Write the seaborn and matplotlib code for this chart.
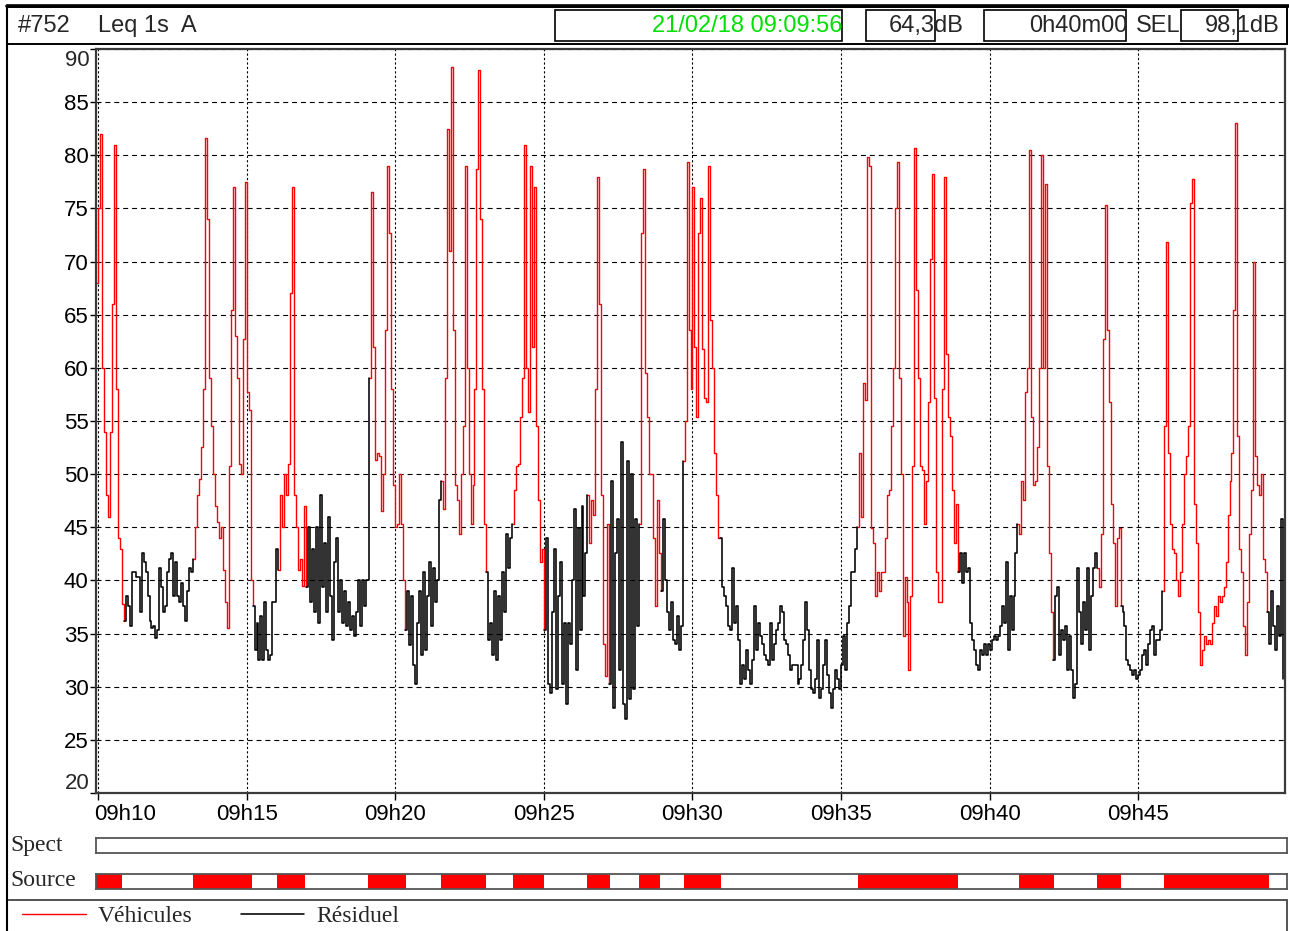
import numpy as np
import pandas as pd
import matplotlib
matplotlib.use("Agg")
import matplotlib.pyplot as plt
from matplotlib.patches import Rectangle
from matplotlib.lines import Line2D
from matplotlib.transforms import ScaledTranslation
import seaborn as sns

# ---------------------------------------------------------------------------
# Measurement: Leq 1s (A-weighted), one stored value every 4 s
# ---------------------------------------------------------------------------
START = "09:09:56"
STEP_S = 4

leq_0910 = [68, 75, 82, 60, 54, 48, 46, 54, 66, 81, 58, 44, 43, 37.8, 36.2,
            38.5, 37.6, 35.7, 40.8, 40.8, 40.3, 40.3, 37, 42.6, 41.7, 40.8, 38.5, 36.2, 35.5, 35.7,
            34.6, 35.3, 41.2, 39.4, 37, 37.6, 40.8, 42, 42.6, 38.5, 41.7, 38.5, 38, 39.8, 37.6,
            36.2, 39, 41.2, 40.8, 42, 45, 48, 49.5, 52.6, 58, 81.6, 74, 59, 54.5, 50,
            47, 45.5, 44, 45, 41, 38, 35.5, 50.8, 65.4, 77, 63, 59, 51, 50, 62.7]
leq_0915 = [77.5, 57.7, 56, 40, 37.6, 33.5, 36, 32.5, 36.7, 32.5, 38, 33.5, 32.5, 33, 38,
            38, 43, 41, 48, 45, 50, 48, 51, 67, 77, 48, 45, 41, 42, 39.5,
            47, 39.4, 45, 38, 43, 37, 45, 36, 48, 39.4, 43.5, 37, 46, 38.5, 34.4,
            41.7, 44, 37, 40, 36, 39, 35.7, 38, 35.3, 36.7, 34.8, 37, 40, 35.7, 40,
            37.6, 40, 40, 59, 76.5, 62, 51.3, 52, 51.7, 46.5, 50, 63.6, 79, 72.7, 58]
leq_0920 = [49, 45, 45.3, 50, 45.3, 40, 35.3, 39, 33.9, 38.5, 32, 30.3, 36, 39, 33,
            40.8, 33.5, 38.5, 41.7, 35.7, 41.2, 38, 40, 47.6, 49.4, 46.7, 59, 82.5, 71, 88.3,
            63.6, 49, 47.6, 44.4, 50, 54.5, 79, 60, 50, 45.3, 49, 58, 78.7, 88, 74,
            58, 45.3, 40.8, 34.4, 36, 33, 39, 32.5, 38.5, 34.4, 40.8, 37, 44.4, 41.2, 44,
            45.3, 48.5, 50.8, 51, 55.4, 59, 81, 60, 55.8, 79, 62, 77, 54.5, 47.6, 41.7]
leq_0925 = [43, 35.3, 44, 30.3, 29.4, 37, 43, 29.8, 38.5, 41.7, 30.3, 36, 28.4, 36, 34,
            40, 46.7, 31.6, 44.9, 35.3, 47, 38.5, 42.6, 48, 43.5, 47.6, 46.2, 58, 78, 66,
            48, 34, 31, 45.3, 30.3, 49.4, 28, 42.6, 45.8, 31.6, 53, 28.4, 27, 51.2, 28.8,
            50, 29.8, 45.8, 35.7, 45.3, 72.7, 78.7, 59.5, 55.4, 50, 50, 44, 37.6, 47.6, 42.6,
            39, 45.8, 40, 37, 35.3, 38, 34.4, 34, 36.7, 33.5, 35.7, 51.2, 55, 79.4, 63.6]
leq_0930 = [58, 77, 62, 55.4, 72.7, 76, 61.8, 57.2, 56.8, 79, 64.5, 60, 52, 48, 44,
            44, 39.4, 38.5, 37.6, 35.7, 35.3, 41.2, 36, 37.6, 34.4, 30.3, 32, 30.7, 33.5, 31.6,
            30.3, 32.5, 37.6, 33.5, 36, 34.8, 34, 33, 32.5, 32, 36, 32.5, 34, 35.3, 36,
            37.6, 37, 34.4, 34, 33, 31.6, 32, 32, 32, 30.3, 30.7, 32, 34.4, 38, 35.3,
            31.6, 29.8, 29.4, 30.7, 34.4, 28.9, 29.8, 32, 34.4, 31.1, 29.4, 28, 29.8, 31.6, 30.7]
leq_0935 = [29.8, 32, 34.8, 31.6, 36, 37.6, 40.8, 40.8, 43, 45, 52, 46, 58.6, 57, 79.8,
            79, 44.9, 43.5, 38.5, 40.8, 39, 40.8, 40.8, 44, 48, 48.5, 54.5, 60, 75, 79.4,
            59, 50, 34.8, 40.3, 38, 31.6, 38.5, 50.8, 80.7, 67.3, 59, 50.8, 50.4, 45.3, 49.4,
            56.8, 70.2, 78.2, 57.2, 40.8, 38, 38, 58, 78, 61.3, 55.4, 53.6, 48.5, 43.5, 47.2,
            40.8, 42.6, 39.8, 42.6, 40.8, 41.2, 36, 34.4, 33.5, 32, 31.6, 33.5, 33, 34, 33]
leq_0940 = [34, 33.5, 34.4, 34.8, 34.4, 34.8, 35.7, 37.6, 36, 41.7, 33.5, 38.5, 35.3, 38.5, 42.6,
            45.3, 44.4, 49.4, 47.6, 57.7, 60, 80.5, 55.4, 49, 49.4, 52.6, 60, 80, 60, 77.3,
            50.8, 42.6, 37, 32.5, 38.5, 39.4, 33, 35.3, 34.4, 35.7, 31.6, 34.8, 31.6, 28.9, 30.3,
            41.2, 37, 34, 38, 35.3, 41.2, 33.5, 38.5, 41.2, 42.6, 41.2, 39.4, 44.4, 62.7, 75.3,
            63.6, 56.8, 47.2, 43.5, 37.6, 44, 44.9, 37.6, 37, 35.7, 32.5, 32, 31.6, 31.1, 31.6]
leq_0945 = [30.7, 31.1, 31.6, 33, 33.5, 32, 34, 35.3, 35.7, 33, 34.4, 34.4, 35.3, 39, 54.5,
            71.8, 52, 45.3, 43, 42.6, 40, 38.5, 40.8, 45.3, 50, 51.7, 54.5, 75.5, 77.8, 47.2,
            43.5, 37, 32, 33.5, 34.8, 34, 34.4, 34, 36, 37.6, 36.7, 38.5, 38, 38.5, 39.4,
            41.7, 46.2, 49.4, 52, 65.4, 83, 53.6, 43, 40.8, 35.7, 33, 38, 44.4, 48.5, 70,
            51.7, 49, 48, 50, 42, 40.8, 37, 34, 39, 35.7, 33.5, 37.6, 34.8, 45.8, 30.7]

# Vehicle pass-by periods, seconds after START (everything else is residual noise)
veh_start = [0, 196, 365, 549, 696, 840, 990, 1094, 1184, 1536, 1860, 2018, 2152]
veh_end = [53, 314, 422, 624, 786, 902, 1035, 1137, 1260, 1737, 1931, 2066, 2363]

x_tick_labels = ["09h10", "09h15", "09h20", "09h25", "09h30", "09h35", "09h40", "09h45"]
y_ticks = [20, 25, 30, 35, 40, 45, 50, 55, 60, 65, 70, 75, 80, 85, 90]

station = "#752"
metric = "Leq 1s  A"
stamp = "21/02/18 09:09:56"
leq_global = "64,3dB"
duration = "0h40m00"
sel_value = "98,1dB"
source_names = ["Véhicules", "Résiduel"]
source_colors = {"Véhicules": "#ff0000", "Résiduel": "#000000"}
RECORD_S = 2400

# ---------------------------------------------------------------------------
levels = np.array(leq_0910 + leq_0915 + leq_0920 + leq_0925 +
                  leq_0930 + leq_0935 + leq_0940 + leq_0945, dtype=float)
t = np.arange(len(levels)) * STEP_S

is_veh = np.zeros(len(t), dtype=bool)
for a, b in zip(veh_start, veh_end):
    is_veh |= (t >= a) & (t < b)
source = np.where(is_veh, source_names[0], source_names[1])

# split into runs of identical source; each run also carries the first
# sample of the next run so the trace stays continuous
seg = np.concatenate([[0], np.cumsum(source[1:] != source[:-1])])
parts = []
for k in range(seg.max() + 1):
    idx = np.where(seg == k)[0]
    if idx[-1] + 1 < len(t):
        idx = np.append(idx, idx[-1] + 1)
    parts.append(pd.DataFrame({"t": t[idx], "leq": levels[idx],
                               "source": source[idx[0]], "run": k}))
df = pd.concat(parts, ignore_index=True)


def hms(s):
    h, m, sec = (int(v) for v in s.split(":"))
    return h * 3600 + m * 60 + sec


t0 = hms(START)
x_ticks = [hms(lab.replace("h", ":") + ":00") - t0 for lab in x_tick_labels]

# ---------------------------------------------------------------------------
sns.set_theme(style="white")
plt.rcParams["font.family"] = ["Liberation Sans", "DejaVu Sans"]
SERIF = ["Liberation Serif", "DejaVu Serif"]

W, H = 1289, 931
fig = plt.figure(figsize=(W / 100, H / 100), dpi=100, facecolor="white")


def fx(px):
    return px / W


def fy(py):
    return 1 - py / H


def frect(x0, y0, x1, y1, **kw):
    fig.add_artist(Rectangle((fx(x0), fy(y1)), fx(x1) - fx(x0), fy(y0) - fy(y1),
                             transform=fig.transFigure, fill=False, **kw))


# main chart ---------------------------------------------------------------
ax = fig.add_axes([fx(96), fy(793), fx(1285) - fx(96), fy(49) - fy(793)])
ax.set_facecolor("white")
sns.lineplot(data=df, x="t", y="leq", hue="source", units="run", estimator=None,
             hue_order=source_names, palette=source_colors, drawstyle="steps-post",
             linewidth=1.0, ax=ax)
handles, labels = ax.get_legend_handles_labels()
ax.get_legend().remove()
# residual noise drawn a touch heavier
for ln in ax.lines:
    if matplotlib.colors.to_hex(ln.get_color()) == "#000000":
        ln.set_linewidth(1.15)

ax.set_xlim(0, RECORD_S)
ax.set_ylim(20, 90)
ax.set_xticks(x_ticks)
ax.set_xticklabels(x_tick_labels, fontsize=16)
ax.set_yticks(y_ticks)
ax.set_yticklabels(["" if v in (20, 90) else str(v) for v in y_ticks], fontsize=16)
ax.set_xlabel("")
ax.set_ylabel("")
ax.tick_params(axis="y", direction="out", length=4, width=1, pad=1.5, left=True, colors="black")
ax.tick_params(axis="x", direction="out", length=5, width=1, pad=3, bottom=True, colors="black")
ax.grid(axis="y", color="black", linestyle=(0, (4.5, 3.5)), linewidth=0.8)
ax.grid(axis="x", color="black", linestyle=(0, (2, 2)), linewidth=0.8)
for sp in ax.spines.values():
    sp.set_color("#3a3a3a")
    sp.set_linewidth(1.6)

# first time label is kept inside the frame
first = ax.get_xticklabels()[0]
first.set_ha("left")
first.set_transform(first.get_transform() + ScaledTranslation(-4 / 100, 0, fig.dpi_scale_trans))

# end labels sit inside the frame
ax.text(-0.005, 88.9, "90", transform=ax.get_yaxis_transform(), ha="right", va="center", fontsize=16)
ax.text(-0.005, 20.9, "20", transform=ax.get_yaxis_transform(), ha="right", va="center", fontsize=16)

# spectrum / source strips ---------------------------------------------------
ax_spec = fig.add_axes([fx(96), fy(853), fx(1287) - fx(96), fy(838) - fy(853)], sharex=ax)
ax_src = fig.add_axes([fx(96), fy(889), fx(1287) - fx(96), fy(874) - fy(889)], sharex=ax)
for a in (ax_spec, ax_src):
    a.set_facecolor("white")
    a.set_yticks([])
    a.tick_params(axis="x", bottom=False, labelbottom=False)
    a.grid(False)
    for sp in a.spines.values():
        sp.set_color("#555555")
        sp.set_linewidth(1.3)
for a, b in zip(veh_start, veh_end):
    ax_src.axvspan(a, b, color="#ff0000", lw=0)
ax_src.set_xlim(0, RECORD_S)

fig.text(fx(10), fy(846), "Spect", family=SERIF, fontsize=17, ha="left", va="center")
fig.text(fx(10), fy(881), "Source", family=SERIF, fontsize=17, ha="left", va="center")

# legend -------------------------------------------------------------------
frect(7, 900, 1287, 940, edgecolor="#444444", linewidth=1.3)
fig.legend(handles, labels, loc="center left", bbox_to_anchor=(fx(22), fy(916)),
           ncol=2, frameon=False, prop={"family": SERIF, "size": 17},
           handlelength=2.7, handletextpad=0.5, columnspacing=2.05,
           borderaxespad=0, borderpad=0)

# header -------------------------------------------------------------------
fig.add_artist(Line2D([fx(7), fx(7)], [fy(6), fy(931)], transform=fig.transFigure,
                      color="black", lw=1.5))
frect(7, 7, 1287, 44, edgecolor="black", linewidth=1.4)
fig.add_artist(Line2D([fx(7), fx(1289)], [fy(6), fy(6)], transform=fig.transFigure,
                      color="black", lw=2.6))
HY = fy(26)
fig.text(fx(18), HY, station, fontsize=17, ha="left", va="center")
fig.text(fx(98), HY, metric, fontsize=17, ha="left", va="center")
frect(555, 10, 842, 41, edgecolor="black", linewidth=1.2)
fig.text(fx(843), HY, stamp, fontsize=17, ha="right", va="center", color="#00e000")
frect(866, 10, 935, 41, edgecolor="black", linewidth=1.2)
fig.text(fx(889), HY, leq_global, fontsize=17, ha="left", va="center")
frect(984, 10, 1126, 41, edgecolor="black", linewidth=1.2)
fig.text(fx(1127), HY, duration, fontsize=17, ha="right", va="center")
fig.text(fx(1136), HY, "SEL", fontsize=17, ha="left", va="center")
frect(1181, 10, 1238, 41, edgecolor="black", linewidth=1.2)
fig.text(fx(1205), HY, sel_value, fontsize=17, ha="left", va="center")

fig.savefig("out.png", dpi=100, facecolor="white")
